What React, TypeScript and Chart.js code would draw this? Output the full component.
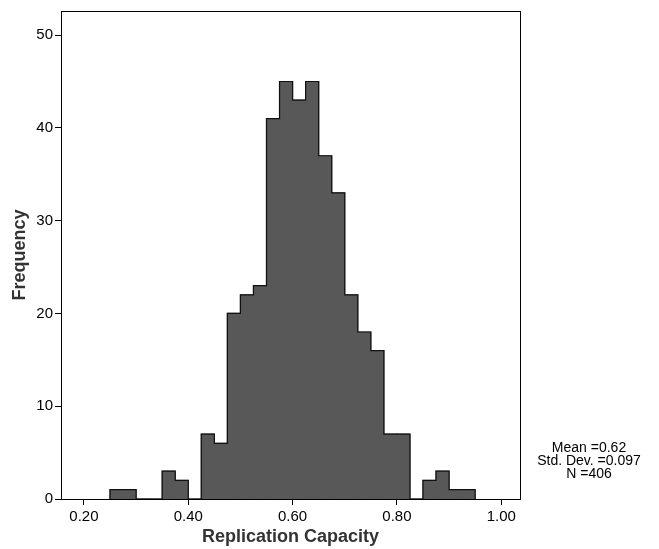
import React, { useEffect, useRef } from "react";
import { Chart, registerables } from "chart.js";

Chart.register(...registerables);

// Histogram bins (lower edge of each bin) and frequencies
const binStarts = [
  0.25, 0.275, 0.3, 0.325, 0.35, 0.375, 0.4, 0.425, 0.45, 0.475, 0.5, 0.525, 0.55, 0.575,
  0.6, 0.625, 0.65, 0.675, 0.7, 0.725, 0.75, 0.775, 0.8, 0.825, 0.85, 0.875, 0.9, 0.925,
];
const counts = [
  1, 1, 0, 0, 3, 2, 0, 7, 6, 20, 22, 23, 41, 45, 43, 45, 37, 33, 22, 18, 16, 7, 7, 0, 2, 3, 1, 1,
];
const binWidth = 0.025;
const xTicks = [0.2, 0.4, 0.6, 0.8, 1.0];
const yTicks = [0, 10, 20, 30, 40, 50];
const statsLines = ["Mean =0.62", "Std. Dev. =0.097", "N =406"];

const FONT = "Arial, 'Liberation Sans', Helvetica, sans-serif";

export default function App() {
  const ref = useRef<HTMLCanvasElement | null>(null);

  useEffect(() => {
    const canvas = ref.current;
    if (!canvas) return;

    const barData = binStarts.map((s, i) => ({ x: s + binWidth / 2, y: counts[i] }));
    const outline: { x: number; y: number }[] = [];
    const n = binStarts.length;
    for (let i = 0; i <= n; i++) {
      const edge = i < n ? binStarts[i] : binStarts[n - 1] + binWidth;
      const prev = i > 0 ? counts[i - 1] : 0;
      const cur = i < n ? counts[i] : 0;
      outline.push({ x: edge, y: prev });
      outline.push({ x: edge, y: cur });
    }

    const framePlugin = {
      id: "frameAndStats",
      afterDraw(chart: any) {
        const { ctx, chartArea } = chart;
        ctx.save();
        ctx.strokeStyle = "#000";
        ctx.lineWidth = 1;
        ctx.strokeRect(
          Math.round(chartArea.left) + 0.5,
          Math.round(chartArea.top) + 0.5,
          Math.round(chartArea.right - chartArea.left),
          Math.round(chartArea.bottom - chartArea.top)
        );
        ctx.fillStyle = "#000";
        ctx.font = `14px ${FONT}`;
        ctx.textAlign = "center";
        ctx.textBaseline = "middle";
        statsLines.forEach((t, i) => {
          ctx.fillText(t, 589, 448 + i * 13);
        });
        ctx.restore();
      },
    };

    const chart = new Chart(canvas, {
      type: "bar",
      data: {
        datasets: [
          {
            type: "line",
            data: outline,
            borderColor: "#111",
            borderWidth: 1.2,
            pointRadius: 0,
            fill: false,
            tension: 0,
            order: 0,
          } as any,
          {
            type: "bar",
            data: barData,
            backgroundColor: "#585858",
            borderWidth: 0,
            inflateAmount: 0.6,
            barPercentage: 1,
            categoryPercentage: 1,
            order: 1,
          } as any,
        ],
      },
      options: {
        responsive: false,
        animation: false,
        devicePixelRatio: 1,
        layout: { padding: { left: 0, right: 139, top: 9, bottom: 0 } },
        plugins: {
          legend: { display: false },
          tooltip: { enabled: false },
        },
        scales: {
          x: {
            type: "linear",
            min: 0.156,
            max: 1.036,
            offset: false,
            afterFit(scale: any) {
              scale.height = 50;
            },
            afterBuildTicks(scale: any) {
              scale.ticks = xTicks.map((v) => ({ value: v }));
            },
            ticks: {
              color: "#000",
              font: { family: FONT, size: 15 },
              padding: 3,
              maxRotation: 0,
              callback: (v: any) => Number(v).toFixed(2),
            },
            grid: {
              display: true,
              offset: false,
              drawOnChartArea: false,
              drawTicks: true,
              tickLength: 6,
              color: "#000",
            },
            border: { display: true, color: "#000", width: 1 },
            title: {
              display: true,
              text: "Replication Capacity",
              color: "#333",
              font: { family: FONT, size: 18, weight: "bold" },
              padding: { top: 0, bottom: 1 },
            },
          },
          y: {
            type: "linear",
            min: 0,
            max: 52.6,
            afterFit(scale: any) {
              scale.width = 61;
            },
            afterBuildTicks(scale: any) {
              scale.ticks = yTicks.map((v) => ({ value: v }));
            },
            ticks: {
              color: "#000",
              font: { family: FONT, size: 15 },
              padding: 2,
            },
            grid: {
              display: true,
              offset: false,
              drawOnChartArea: false,
              drawTicks: true,
              tickLength: 6,
              color: "#000",
            },
            border: { display: true, color: "#000", width: 1 },
            title: {
              display: true,
              text: "Frequency",
              color: "#333",
              font: { family: FONT, size: 18, weight: "bold" },
              padding: { top: 9, bottom: 0 },
            },
          },
        },
      },
      plugins: [framePlugin],
    });

    return () => chart.destroy();
  }, []);

  return (
    <div style={{ position: "fixed", left: 0, top: 0, width: 659, height: 549, background: "#fff" }}>
      <canvas ref={ref} width={659} height={549} style={{ display: "block" }} />
    </div>
  );
}
